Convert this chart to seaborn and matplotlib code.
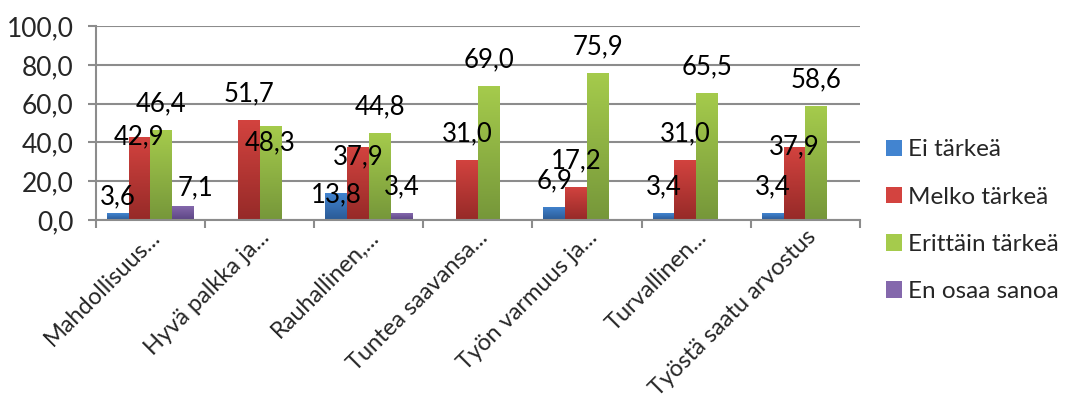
import matplotlib
matplotlib.use("Agg")
import matplotlib.pyplot as plt
from matplotlib.colors import LinearSegmentedColormap
from matplotlib.ticker import FuncFormatter, FixedLocator
from matplotlib.patches import Patch
from matplotlib.transforms import ScaledTranslation
import numpy as np
import pandas as pd
import seaborn as sns

# Values
categories = ['Mahdollisuus...', 'Hyvä palkka ja...', 'Rauhallinen,...', 'Tuntea saavansa...',
              'Työn varmuus ja...', 'Turvallinen...', 'Työstä saatu arvostus']
series = ['Ei tärkeä', 'Melko tärkeä', 'Erittäin tärkeä', 'En osaa sanoa']
ei_tarkea = [3.6, 0, 13.8, 0, 6.9, 3.4, 3.4]
melko_tarkea = [42.9, 51.7, 37.9, 31.0, 17.2, 31.0, 37.9]
erittain_tarkea = [46.4, 48.3, 44.8, 69.0, 75.9, 65.5, 58.6]
en_osaa = [7.1, 0, 3.4, 0, 0, 0, 0]

df = pd.DataFrame({
    'Kategoria': categories * 4,
    'Vastaus': np.repeat(series, len(categories)),
    'Osuus': ei_tarkea + melko_tarkea + erittain_tarkea + en_osaa,
})

# gradient colours (bottom, top) in Excel 2007 style
grad = {
    'Ei tärkeä': ('#2a5a95', '#4284d0'),
    'Melko tärkeä': ('#962a28', '#d3433f'),
    'Erittäin tärkeä': ('#76973a', '#a5cb4c'),
    'En osaa sanoa': ('#5c4583', '#8468ac'),
}
palette = {k: v[1] for k, v in grad.items()}

sns.set_theme(style="white")
plt.rcParams['font.family'] = ['Lato', 'DejaVu Sans']

fig = plt.figure(figsize=(10.65, 4.16), dpi=100)
ax = fig.add_axes([0.090, 0.471, 0.7175, 0.4665])

sns.barplot(data=df, x='Kategoria', y='Osuus', hue='Vastaus', hue_order=series,
            palette=palette, width=0.8, ax=ax, legend=False, saturation=1)

# vertical gradient on each bar
grad_img = np.linspace(0, 1, 100).reshape(-1, 1)
for cont, name in zip(ax.containers, series):
    cmap = LinearSegmentedColormap.from_list(name, list(grad[name]))
    for p in cont.patches:
        h = p.get_height()
        if h <= 0:
            continue
        p.set_edgecolor('none')
        x0, w = p.get_x(), p.get_width()
        im = ax.imshow(grad_img, extent=[x0, x0 + w, 0, h], origin='lower',
                       cmap=cmap, aspect='auto', zorder=p.get_zorder() + 0.1)
        im.set_clip_path(p)

# data labels: normally above the bar, a few are shifted like in the original
label_gap = 13.5
label_shift = {(0, 0): (0, -5), (0, 1): (0, -13.5), (0, 3): (0.11, -4),
               (1, 2): (0, -22), (2, 0): (0, -14.5), (2, 1): (0, -19),
               (6, 1): (0, -13.5)}
for j, cont in enumerate(ax.containers):
    for i, p in enumerate(cont.patches):
        h = p.get_height()
        if h <= 0:
            continue
        dx, dy = label_shift.get((i, j), (0, 0))
        ax.text(p.get_x() + p.get_width() / 2 + dx, h + label_gap + dy,
                f'{h:.1f}'.replace('.', ','), ha='center', va='center',
                fontsize=18.5, color='black', zorder=5)

ax.set_xlim(-0.5, len(categories) - 0.5)
ax.set_ylim(0, 100)
ax.set_yticks(np.arange(0, 101, 20))
ax.yaxis.set_major_formatter(FuncFormatter(lambda v, _: f'{v:.1f}'.replace('.', ',')))
ax.grid(axis='y', color='#8c8c8c', linewidth=1.5)
ax.set_axisbelow(True)
ax.set_xlabel('')
ax.set_ylabel('')

for s in ['top', 'right']:
    ax.spines[s].set_visible(False)
for s in ['left', 'bottom']:
    ax.spines[s].set_color('#8c8c8c')
    ax.spines[s].set_linewidth(1.5)

ax.tick_params(axis='y', length=6, width=1.5, color='#8c8c8c', direction='out',
               labelsize=19, pad=10, left=True)
ax.tick_params(axis='x', which='major', length=0, labelsize=17, pad=10)
ax.xaxis.set_minor_locator(FixedLocator(np.arange(-0.5, len(categories), 1)))
ax.tick_params(axis='x', which='minor', length=6, width=1.5, color='#8c8c8c',
               direction='out', bottom=True)
shift = ScaledTranslation(7 / 100, 0, fig.dpi_scale_trans)
for lab in ax.get_xticklabels():
    lab.set_rotation(45)
    lab.set_ha('right')
    lab.set_va('center')
    lab.set_rotation_mode('anchor')
    lab.set_transform(lab.get_transform() + shift)

handles = [Patch(facecolor=palette[s], edgecolor='none') for s in series]
fig.legend(handles, series, loc='upper left', bbox_to_anchor=(0.832, 0.665),
           frameon=False, fontsize=17.5, handlelength=0.66, handleheight=0.66,
           handletextpad=0.25, labelspacing=1.08, borderaxespad=0, borderpad=0)

fig.savefig('out.png', dpi=100)
